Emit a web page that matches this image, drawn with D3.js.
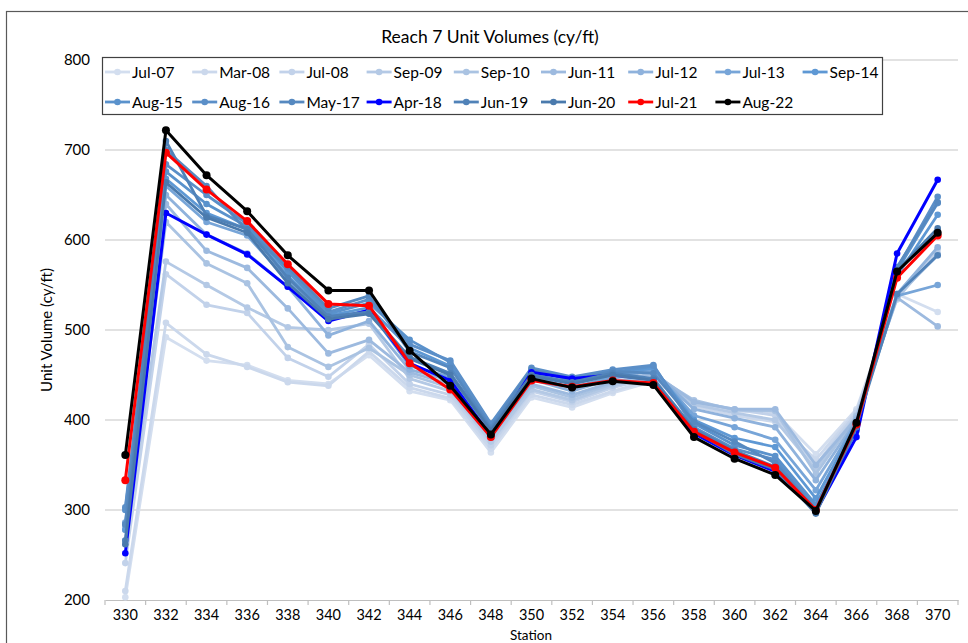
<!DOCTYPE html>
<html>
<head>
<meta charset="utf-8">
<script src="https://cdn.jsdelivr.net/npm/d3@7"></script>
<style>
  body { margin: 0; background: #fff; }
  svg { display: block; font-family: Lato, "Open Sans", sans-serif; }
</style>
</head>
<body>
<div id="chart"></div>
<script>
const stations = [330, 332, 334, 336, 338, 340, 342, 344, 346, 348, 350,
  352, 354, 356, 358, 360, 362, 364, 366, 368, 370];
const yTicks = [200, 300, 400, 500, 600, 700, 800];

const seriesNames = ['Jul-07', 'Mar-08', 'Jul-08', 'Sep-09', 'Sep-10', 'Jun-11',
  'Jul-12', 'Jul-13', 'Sep-14', 'Aug-15', 'Aug-16', 'May-17', 'Apr-18',
  'Jun-19', 'Jun-20', 'Jul-21', 'Aug-22'];

const seriesColors = ['#d3deef', '#cbd8ec', '#c2d2ea', '#b4c9e5', '#aac3e2',
  '#9dbadf', '#8fb2dc', '#77a5d8', '#5e98d4', '#5a92cc', '#5b8fc8', '#5689c0',
  '#0000ff', '#5082b8', '#4a7aad', '#ff0000', '#000000'];

const jul07 = [203, 492, 466, 461, 444, 440, 472, 432, 422, 364, 425, 414, 430, 443, 418, 410, 408, 362, 412, 540, 520];
const mar08 = [210, 508, 473, 459, 442, 438, 476, 436, 424, 368, 428, 417, 432, 445, 415, 405, 398, 356, 410, 538, 583];
const jul08 = [241, 562, 528, 519, 469, 448, 484, 440, 428, 372, 432, 420, 436, 447, 420, 412, 405, 350, 408, 534, 590];
const sep09 = [262, 576, 550, 525, 503, 500, 507, 446, 432, 376, 434, 422, 438, 448, 417, 408, 400, 345, 405, 536, 585];
const sep10 = [266, 620, 574, 552, 481, 459, 480, 450, 436, 380, 438, 425, 440, 450, 422, 411, 410, 340, 404, 538, 583];
const jun11 = [278, 640, 588, 569, 524, 474, 489, 453, 440, 384, 440, 428, 442, 452, 420, 412, 412, 350, 402, 536, 504];
const jul12 = [282, 650, 606, 585, 548, 494, 510, 456, 444, 388, 445, 432, 446, 455, 412, 402, 392, 333, 400, 540, 592];
const jul13 = [286, 660, 620, 605, 555, 513, 522, 460, 448, 390, 448, 436, 448, 456, 405, 392, 378, 322, 398, 538, 550];
const sep14 = [278, 668, 630, 612, 560, 516, 525, 480, 460, 392, 452, 440, 450, 458, 400, 380, 370, 313, 396, 560, 628];
const aug15 = [300, 676, 640, 615, 565, 518, 530, 489, 464, 394, 455, 444, 453, 460, 396, 372, 360, 306, 392, 566, 641];
const aug16 = [303, 684, 650, 618, 568, 520, 534, 484, 466, 396, 458, 448, 456, 461, 392, 368, 356, 302, 390, 568, 648];
const may17 = [284, 700, 660, 610, 570, 524, 538, 476, 458, 392, 456, 445, 454, 452, 398, 376, 352, 300, 388, 570, 642];
const apr18 = [252, 630, 606, 584, 548, 510, 522, 463, 444, 382, 453, 446, 450, 445, 385, 361, 343, 298, 381, 585, 667];
const jun19 = [266, 710, 627, 612, 558, 515, 520, 470, 452, 390, 450, 442, 452, 446, 390, 366, 348, 298, 394, 540, 583];
const jun20 = [262, 664, 625, 608, 552, 512, 518, 468, 450, 388, 449, 440, 450, 444, 388, 362, 345, 296, 392, 566, 613];
const jul21 = [333, 697, 656, 621, 573, 529, 527, 463, 434, 381, 444, 437, 444, 441, 387, 364, 347, 300, 395, 558, 605];
const aug22 = [361, 722, 672, 632, 583, 544, 544, 477, 438, 384, 446, 436, 443, 439, 381, 357, 339, 299, 397, 565, 608];

const seriesValues = [jul07, mar08, jul08, sep09, sep10, jun11, jul12, jul13,
  sep14, aug15, aug16, may17, apr18, jun19, jun20, jul21, aug22];

const width = 968, height = 643;
const plot = { left: 105, right: 958, top: 60, bottom: 600 };

const svg = d3.select('#chart').append('svg')
  .attr('width', width)
  .attr('height', height);

svg.append('rect')
  .attr('x', 6.5).attr('y', 11.5)
  .attr('width', 1000).attr('height', 700)
  .attr('fill', '#fff')
  .attr('stroke', '#595959')
  .attr('stroke-width', 1.2);

const x = d3.scaleBand()
  .domain(stations)
  .range([plot.left, plot.right])
  .padding(0);

const y = d3.scaleLinear()
  .domain([200, 800])
  .range([plot.bottom, plot.top]);

const cx = d => x(d) + x.bandwidth() / 2;

// gridlines
svg.append('g')
  .selectAll('line')
  .data(yTicks.filter(t => t > 200))
  .enter()
  .append('line')
  .attr('x1', plot.left).attr('x2', plot.right)
  .attr('y1', d => y(d)).attr('y2', d => y(d))
  .attr('stroke', '#d9d9d9')
  .attr('stroke-width', 1.5);

// y axis labels
const yAxis = svg.append('g')
  .attr('transform', `translate(${plot.left},0)`)
  .call(d3.axisLeft(y).tickValues(yTicks).tickSize(0).tickPadding(15));
yAxis.select('.domain').remove();
yAxis.selectAll('text')
  .attr('font-family', 'Lato, sans-serif')
  .attr('font-size', 15)
  .attr('fill', '#000');

// x axis
const xAxis = svg.append('g')
  .attr('transform', `translate(0,${plot.bottom})`)
  .call(d3.axisBottom(x).tickSize(0).tickPadding(10));
xAxis.select('.domain')
  .attr('stroke', '#bfbfbf')
  .attr('stroke-width', 1.2);
xAxis.selectAll('text')
  .attr('font-family', 'Lato, sans-serif')
  .attr('font-size', 14.5)
  .attr('fill', '#000');

// category boundary tick marks
svg.append('g')
  .selectAll('line')
  .data(stations.concat([null]))
  .enter()
  .append('line')
  .attr('x1', (d, i) => plot.left + i * x.step())
  .attr('x2', (d, i) => plot.left + i * x.step())
  .attr('y1', plot.bottom)
  .attr('y2', plot.bottom + 5)
  .attr('stroke', '#bfbfbf')
  .attr('stroke-width', 1.2);

// series
const line = d3.line()
  .x((d, i) => cx(stations[i]))
  .y(d => y(d));

const series = svg.append('g');
seriesValues.forEach((vals, s) => {
  const g = series.append('g');
  const special = s === 12 || s === 15 || s === 16;
  g.append('path')
    .datum(vals)
    .attr('d', line)
    .attr('fill', 'none')
    .attr('stroke', seriesColors[s])
    .attr('stroke-width', special ? 3 : 2.8)
    .attr('stroke-linejoin', 'round');
  g.selectAll('circle')
    .data(vals)
    .enter()
    .append('circle')
    .attr('cx', (d, i) => cx(stations[i]))
    .attr('cy', d => y(d))
    .attr('r', s === 16 || s === 15 ? 4 : 3.3)
    .attr('fill', seriesColors[s]);
});

// title
svg.append('text')
  .attr('x', 490).attr('y', 43)
  .attr('text-anchor', 'middle')
  .attr('font-size', 17.5)
  .text('Reach 7 Unit Volumes (cy/ft)');

// axis titles
svg.append('text')
  .attr('x', 531).attr('y', 640)
  .attr('text-anchor', 'middle')
  .attr('font-size', 13.5)
  .text('Station');

svg.append('text')
  .attr('transform', 'translate(52,330) rotate(-90)')
  .attr('text-anchor', 'middle')
  .attr('font-size', 15)
  .text('Unit Volume (cy/ft)');

// legend
const legend = svg.append('g');
legend.append('rect')
  .attr('x', 102.5).attr('y', 57.5)
  .attr('width', 780).attr('height', 57)
  .attr('fill', '#fff')
  .attr('stroke', '#404040')
  .attr('stroke-width', 1.2);

const colW = 87.2;
seriesNames.forEach((name, s) => {
  const row = s < 9 ? 0 : 1;
  const col = s < 9 ? s : s - 9;
  const x0 = 105 + col * colW;
  const yy = row === 0 ? 72 : 102;
  const item = legend.append('g');
  item.append('line')
    .attr('x1', x0).attr('x2', x0 + 25)
    .attr('y1', yy).attr('y2', yy)
    .attr('stroke', seriesColors[s])
    .attr('stroke-width', 2.8);
  item.append('circle')
    .attr('cx', x0 + 12.5).attr('cy', yy)
    .attr('r', 3.3)
    .attr('fill', seriesColors[s]);
  item.append('text')
    .attr('x', x0 + 27).attr('y', yy + 5.5)
    .attr('font-size', 15.5)
    .text(name);
});
</script>
</body>
</html>
